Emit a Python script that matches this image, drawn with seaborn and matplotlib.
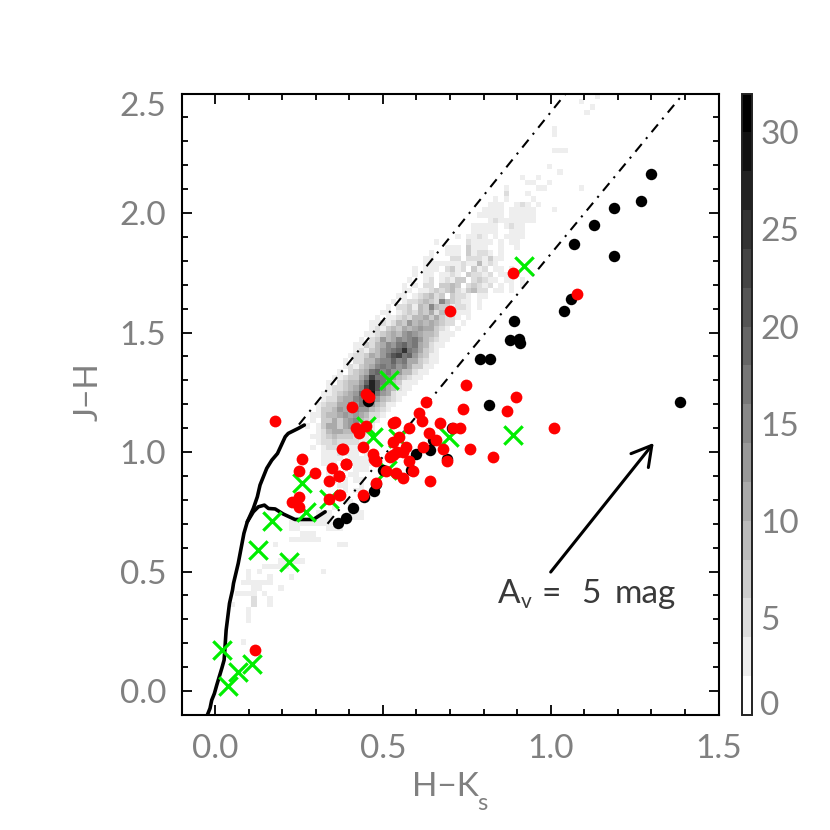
import numpy as np
import pandas as pd
import matplotlib
matplotlib.use("Agg")
import matplotlib.pyplot as plt
from matplotlib.colors import ListedColormap
from matplotlib.ticker import MultipleLocator
from matplotlib.transforms import ScaledTranslation
import seaborn as sns

# Density grid: row index -> (first column, hex digits = colour level of each cell)
HEAT_ROWS = {
114:(77,"1"),113:(74,"1"),112:(76,"1"),111:(75,"1"),108:(69,"1"),107:(69,"1"),104:(69,"111"),
101:(68,"1"),100:(70,"1"),99:(63,"1001"),98:(64,"11001"),97:(60,"100000110000001"),96:(60,"20001"),
95:(58,"10100001"),94:(57,"1110012101"),93:(56,"11110111110001"),92:(55,"11111011111"),
91:(57,"121111111"),90:(54,"1111101211"),89:(54,"1111100111"),88:(51,"1011210101111"),
87:(47,"1000002111101011"),86:(49,"11103111001001"),85:(46,"10011103122101"),
84:(45,"110002202221311"),83:(45,"11111112114121"),82:(43,"1011102312031201101"),
81:(43,"10110112103221201101"),80:(42,"1001201213302321101101"),79:(41,"10102203343023212010101"),
78:(41,"110112323421342201101"),77:(40,"11012342303221011"),76:(39,"10122343274321101"),
75:(38,"102231437433122101"),74:(37,"11012324352433111"),73:(36,"101123244535322101"),
72:(35,"112124364545432201"),71:(35,"12134354565532101"),70:(34,"11234546765443111"),
69:(33,"10236457678643211"),68:(32,"11324576897854211"),67:(32,"121346789c875321"),
66:(31,"12235468ab8964311"),65:(30,"102244677978553211"),64:(30,"12134578786753311"),
63:(29,"10234589786644211"),62:(28,"1123357b887643211"),61:(27,"10234469da8643111"),
60:(27,"1223457bda754211"),59:(26,"11234569ce865211"),58:(26,"122455787964321"),
57:(25,"123355768764311"),56:(25,"13346567664321"),55:(24,"11344565654221"),
54:(24,"1033535674321"),53:(23,"1013553565321"),52:(25,"12455444221"),51:(24,"11234333211"),
50:(25,"1223222211"),49:(24,"1012221111"),48:(26,"111211101"),47:(26,"111101111"),
46:(26,"1110011111"),45:(27,"11010111"),44:(27,"110011"),43:(28,"101011"),42:(29,"11001"),
41:(30,"1011"),39:(30,"11"),38:(28,"10011"),37:(25,"111000111"),36:(25,"111000111"),
35:(20,"11111111"),34:(20,"1100000111"),33:(22,"111"),32:(20,"111111"),
31:(17,"10000000000011"),28:(18,"11111"),27:(15,"11111"),26:(12,"101000000000001"),
25:(12,"100010001"),24:(11,"111111"),23:(13,"110001"),22:(10,"111101"),21:(13,"2001"),
20:(9,"10002001"),19:(12,"1"),18:(12,"1"),17:(12,"1"),13:(11,"1"),
}
N_ROWS = 115
N_COLS = 100

black_hk = [1.30,1.27,1.19,1.13,1.07,1.19,1.06,1.04,.89,.88,.905,.91,.79,.82,.815,1.385,
            .60,.64,.65,.705,.69,.585,.50,.48,.475,.445,.41,.39,.365,.455]
black_jh = [2.165,2.05,2.02,1.95,1.87,1.82,1.64,1.59,1.55,1.47,1.475,1.455,1.39,1.39,1.195,1.21,
            .99,1.01,1.05,1.10,.97,.925,.925,.865,.835,.81,.765,.725,.705,1.215]

red_hk = [.749,.898,.869,.740,.629,.608,.618,.669,.710,.730,1.009,.638,.658,.680,.759,.829,.690,
          .619,.579,.536,.529,.549,.529,.569,.561,.541,.521,.531,.579,.589,.539,.559,.639,.508,
          .470,.473,.479,.479,.440,.390,.440,.380,.370,.372,.409,.450,.460,.419,.429,.449,
          .179,.119,.259,.249,.299,.349,.339,.369,.389,.379,.369,.339,.228,.249,.249,
          1.078,.888,.70]
red_jh = [1.280,1.232,1.170,1.180,1.211,1.162,1.130,1.121,1.099,1.099,1.100,1.081,1.050,1.011,1.011,.980,.961,
          1.020,1.099,1.127,1.120,1.061,1.040,1.022,1.001,1.001,.980,.987,.962,.920,.911,.891,.880,.920,
          .992,.973,.964,.870,.820,.950,1.020,1.011,.900,.820,1.190,1.241,1.229,1.099,1.081,1.110,
          1.131,.172,.971,.922,.911,.932,.881,.901,.951,1.011,.820,.802,.792,.810,.771,
          1.661,1.749,1.59]

cross_hk = [.518,.920,.020,.040,.069,.109,.219,.129,.169,.259,.270,.340,.472,.449,.546,.511,.698,.888]
cross_jh = [1.301,1.778,.172,.021,.081,.112,.540,.590,.711,.869,.748,.802,1.061,1.11,1.057,.925,1.061,1.070]

giant_hk = [-.023,-.015,-.010,-.002,.005,.020,.027,.033,.043,.052,.055,.069,.086,.096,.114,.126,.134,.154,.169,.186,.209,.218,.248,.266]
giant_jh = [-.100,-.072,-.038,-.010,.025,.095,.130,.255,.367,.423,.451,.534,.660,.708,.764,.813,.862,.932,.966,.994,1.064,1.078,1.099,1.113]
dwarf_hk = [.096,.114,.129,.147,.159,.179,.203,.238,.293,.328]
dwarf_jh = [.708,.750,.771,.778,.764,.762,.741,.718,.718,.750]

band_upper_hk, band_upper_jh = [.25,1.045],[1.115,2.50]
band_lower_hk, band_lower_jh = [.335,1.397],[.70,2.502]
arrow_tail, arrow_tip = (1.0,.498),(1.307,1.038)

x_ticks = [0.0,0.5,1.0,1.5]
y_ticks = [0.0,0.5,1.0,1.5,2.0,2.5]
cbar_ticks = [0,5,10,15,20,25,30]

sns.set_style("white")
plt.rcParams["font.family"] = ["Lato", "DejaVu Sans"]

GREY = "#808080"
INK = "#3a3a3a"
FS = 24

grid = np.zeros((N_ROWS, N_COLS))
for r, (start, digits) in HEAT_ROWS.items():
    for i, d in enumerate(digits):
        lvl = int(d, 16)
        if lvl and start + i < N_COLS:
            grid[r, start + i] = 2 * lvl + 1

W = H = 830
fig = plt.figure(figsize=(W/100, H/100), dpi=100, facecolor="white")
L, R, B, T = 181.5, 718.5, 715.0, 93.5
rect = [L/W, 1-B/H, (R-L)/W, (B-T)/H]
ax_heat = fig.add_axes(rect, zorder=1)
cax = fig.add_axes([742/W, 1-B/H, 10/W, (B-T)/H], zorder=1)
cmap = ListedColormap([str(1 - i/15) for i in range(16)])
sns.heatmap(pd.DataFrame(grid), ax=ax_heat, cmap=cmap, vmin=0, vmax=32, cbar_ax=cax,
            xticklabels=False, yticklabels=False, linewidths=0, rasterized=True)
ax_heat.set_xlim(0, N_COLS)
ax_heat.set_ylim(0, N_ROWS)
ax_heat.axis("off")

cb = ax_heat.collections[0].colorbar
cb.set_ticks(cbar_ticks)
cb.ax.tick_params(length=0, pad=6, labelsize=FS, labelcolor=GREY)
cb.outline.set_visible(True)
cb.outline.set_linewidth(1.4)
cb.outline.set_edgecolor("#222222")
cb.ax.get_yticklabels()[0].set_va("baseline")

ax = fig.add_axes(rect, zorder=2)
ax.patch.set_alpha(0)

line_kw = dict(ax=ax, color="black", sort=False, estimator=None, legend=False)
sns.lineplot(x=band_upper_hk, y=band_upper_jh, lw=1.5, ls=(0,(4.8,3.2,1,3.2)), zorder=2, **line_kw)
sns.lineplot(x=band_lower_hk, y=band_lower_jh, lw=1.5, ls=(0,(4.8,3.2,1,3.2)), zorder=2, **line_kw)
sns.lineplot(x=giant_hk, y=giant_jh, lw=2.6, zorder=3, **line_kw)
sns.lineplot(x=dwarf_hk, y=dwarf_jh, lw=2.6, zorder=3, **line_kw)

sns.scatterplot(x=cross_hk, y=cross_jh, ax=ax, marker="x", color="#00EE00", s=175, linewidth=2.3, zorder=4, legend=False)
sns.scatterplot(x=black_hk, y=black_jh, ax=ax, color="black", s=68, linewidth=0, zorder=5, legend=False)
sns.scatterplot(x=red_hk, y=red_jh, ax=ax, color="#FF0000", s=72, linewidth=0, zorder=6, legend=False)

ax.annotate("", xy=arrow_tip, xytext=arrow_tail, zorder=7,
            arrowprops=dict(arrowstyle="->,head_length=0.7,head_width=0.4", mutation_scale=20,
                            lw=2.2, color="black", shrinkA=0, shrinkB=0))

ax.set_xlim(-0.1, 1.5)
ax.set_ylim(-0.1, 2.5)
ax.set_xticks(x_ticks, [f"{v:.1f}" for v in x_ticks])
ax.set_yticks(y_ticks, [f"{v:.1f}" for v in y_ticks])
ax.xaxis.set_minor_locator(MultipleLocator(0.1))
ax.yaxis.set_minor_locator(MultipleLocator(0.1))
ax.tick_params(which="major", direction="in", top=True, right=True, left=True, bottom=True,
               length=7.5, width=1.3, color="black", labelsize=FS, labelcolor=GREY)
ax.tick_params(which="major", axis="x", pad=14)
ax.tick_params(which="major", axis="y", pad=11)
ax.tick_params(which="minor", direction="in", top=True, right=True, left=True, bottom=True,
               length=4, width=1.3, color="black")
top_label = ax.get_yticklabels()[-1]
top_label.set_transform(top_label.get_transform() + ScaledTranslation(0, -10/100, fig.dpi_scale_trans))
for s in ax.spines.values():
    s.set_visible(True)
    s.set_linewidth(1.5)
    s.set_color("black")

def ptext(px, py, s, size=FS, color=GREY, **kw):
    fig.text(px/W, 1-py/H, s, fontsize=size, color=color, va="baseline", zorder=8, **kw)

# axis titles
ptext(412, 796, "H\u2212K")
ptext(477, 810, "s", size=17)
fig.text(89/W, 1-392/H, "J\u2212H", fontsize=FS, color=GREY, rotation=90,
         ha="center", va="center", zorder=8)
# reddening annotation
ptext(498, 603, "A", color=INK)
ptext(521, 608, "v", size=15, color=INK)
ptext(541, 603, "=", color=INK)
ptext(581, 603, "5", color=INK)
ptext(615, 603, "mag", color=INK)

fig.savefig("out.png", dpi=100, facecolor="white")
